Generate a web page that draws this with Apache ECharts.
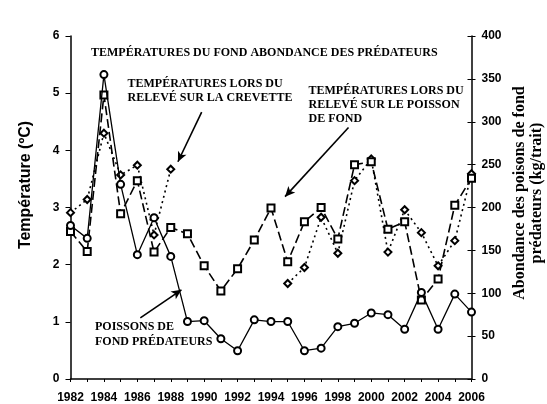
<!DOCTYPE html>
<html><head><meta charset="utf-8">
<script src="https://cdn.jsdelivr.net/npm/echarts@6/dist/echarts.min.js"></script>
<style>html,body{margin:0;padding:0;background:#fff}#c{width:547px;height:404px}</style>
</head><body><div id="c"></div>
<script>
// Years
const years = [1982,1983,1984,1985,1986,1987,1988,1989,1990,1991,1992,1993,1994,1995,1996,1997,1998,1999,2000,2001,2002,2003,2004,2005,2006];
// Abondance des poissons de fond prédateurs (kg/trait) - right axis
const predatorAbundance = [179,164,355,227,145,188,143,67,68,47,33,69,67,67,33,36,61,65,77,75,58,101,58,99,78];
const groundfishSurveyTemp = [2.58,2.23,4.97,2.89,3.47,2.22,2.65,2.54,1.98,1.54,1.93,2.43,2.99,2.05,2.75,3.00,2.45,3.75,3.80,2.62,2.75,1.38,1.75,3.04,3.51];
const shrimpSurveyTemp = [2.91,3.14,4.30,3.57,3.74,2.52,3.67,null,null,null,null,null,null,1.67,1.95,2.83,2.20,3.47,3.85,2.22,2.96,2.56,1.98,2.42,3.59];
// Tick settings
const tempTicks = {min:0, max:6, interval:1};
const abundanceTicks = {min:0, max:400, interval:50};
const yearTicks = {min:1982, max:2006, interval:1};
// Annotation arrows in data units [x1, y1(ºC), x2, y2(ºC)]
const arrows = [
  [1989.85, 4.67, 1988.43, 3.80],
  [1998.64, 4.40, 1994.84, 3.19],
  [1986.18, 1.07, 1988.64, 1.56]
];

const sans = '"Liberation Sans", Arial, sans-serif';
const serif = '"Liberation Serif", "Times New Roman", serif';
const pair = arr => years.map((y, i) => [y, arr[i]]);
const axisLbl = {color:'#000', fontWeight:'bold', fontSize:12, fontFamily:sans};
const blackLine = {lineStyle:{color:'#000', width:1.5}};

const chart = echarts.init(document.getElementById('c'));
chart.setOption({
  animation:false,
  backgroundColor:'#fff',
  grid:{left:70.5, right:75.5, top:36, bottom:25},
  xAxis:{type:'value', min:yearTicks.min, max:yearTicks.max, interval:yearTicks.interval,
    axisLine:{show:true, onZero:false, lineStyle:{color:'#000', width:1.5}},
    axisTick:{show:true, length:3, lineStyle:{color:'#000', width:1}},
    axisLabel:Object.assign({}, axisLbl, {margin:13, formatter:v => (v % 2 === 0 ? String(v) : '')}),
    splitLine:{show:false}},
  yAxis:[
    {type:'value', min:tempTicks.min, max:tempTicks.max, interval:tempTicks.interval, position:'left',
      axisLine:Object.assign({show:true}, blackLine),
      axisTick:{show:true, length:5, lineStyle:{color:'#000', width:1}},
      axisLabel:Object.assign({}, axisLbl, {margin:11}),
      splitLine:{show:false}},
    {type:'value', min:abundanceTicks.min, max:abundanceTicks.max, interval:abundanceTicks.interval, position:'right',
      axisLine:Object.assign({show:true}, blackLine),
      axisTick:{show:true, length:4, lineStyle:{color:'#000', width:1}},
      axisLabel:Object.assign({}, axisLbl, {margin:10}),
      splitLine:{show:false}},
    {type:'value', min:abundanceTicks.min, max:abundanceTicks.max, interval:abundanceTicks.interval, position:'right',
      axisLine:{show:false},
      axisTick:{show:true, inside:true, length:4, lineStyle:{color:'#000', width:1}},
      axisLabel:{show:false},
      splitLine:{show:false}}
  ],
  graphic:[
    {type:'text', x:26, y:185, rotation:Math.PI/2,
      style:{text:'Température (ºC)', font:'bold 16px ' + sans, fill:'#000', align:'center', verticalAlign:'middle'}},
    {type:'text', x:528.5, y:193, rotation:Math.PI/2,
      style:{text:'Abondance des poisons de fond\nprédateurs (kg/trait)', font:'bold 16px ' + serif, lineHeight:17, fill:'#000', align:'center', verticalAlign:'middle'}},
    {type:'text', x:91, y:53,
      style:{text:'TEMPÉRATURES DU FOND ABONDANCE DES PRÉDATEURS', font:'bold 12px ' + serif, fill:'#000', align:'left', verticalAlign:'middle'}},
    {type:'text', x:127.5, y:77,
      style:{text:'TEMPÉRATURES LORS DU\nRELEVÉ SUR LA CREVETTE', font:'bold 12px ' + serif, lineHeight:14, fill:'#000', align:'left', verticalAlign:'top'}},
    {type:'text', x:308.5, y:84,
      style:{text:'TEMPÉRATURES LORS DU\nRELEVÉ SUR LE POISSON\nDE FOND', font:'bold 12px ' + serif, lineHeight:14, fill:'#000', align:'left', verticalAlign:'top'}},
    {type:'text', x:95, y:319,
      style:{text:'POISSONS DE\nFOND PRÉDATEURS', font:'bold 12px ' + serif, lineHeight:15, fill:'#000', align:'left', verticalAlign:'top'}}
  ],
  series:[
    {name:'Températures lors du relevé sur la crevette', type:'line', yAxisIndex:0,
      data:pair(shrimpSurveyTemp), connectNulls:false,
      symbol:'emptyDiamond', symbolSize:7, showAllSymbol:true,
      itemStyle:{color:'#000', borderWidth:1},
      lineStyle:{color:'#000', width:1.6, type:[2,3.5]},
      emphasis:{disabled:true}, z:2},
    {name:'Températures lors du relevé sur le poisson de fond', type:'line', yAxisIndex:0,
      data:pair(groundfishSurveyTemp),
      symbol:'emptyRect', symbolSize:7, showAllSymbol:true,
      itemStyle:{color:'#000', borderWidth:1},
      lineStyle:{color:'#000', width:1.6, type:[9,4]},
      emphasis:{disabled:true}, z:3,
      markLine:{silent:true, symbol:['none','arrow'], symbolSize:[7,10], label:{show:false},
        lineStyle:{color:'#000', width:1.6, type:'solid'},
        emphasis:{disabled:true},
        data:arrows.map(a => [{coord:[a[0], a[1]]}, {coord:[a[2], a[3]]}])}},
    {name:'Poissons de fond prédateurs', type:'line', yAxisIndex:1,
      data:pair(predatorAbundance),
      symbol:'emptyCircle', symbolSize:7, showAllSymbol:true,
      itemStyle:{color:'#000', borderWidth:1},
      lineStyle:{color:'#000', width:1.3, type:'solid'},
      emphasis:{disabled:true}, z:4}
  ]
});
</script></body></html>
